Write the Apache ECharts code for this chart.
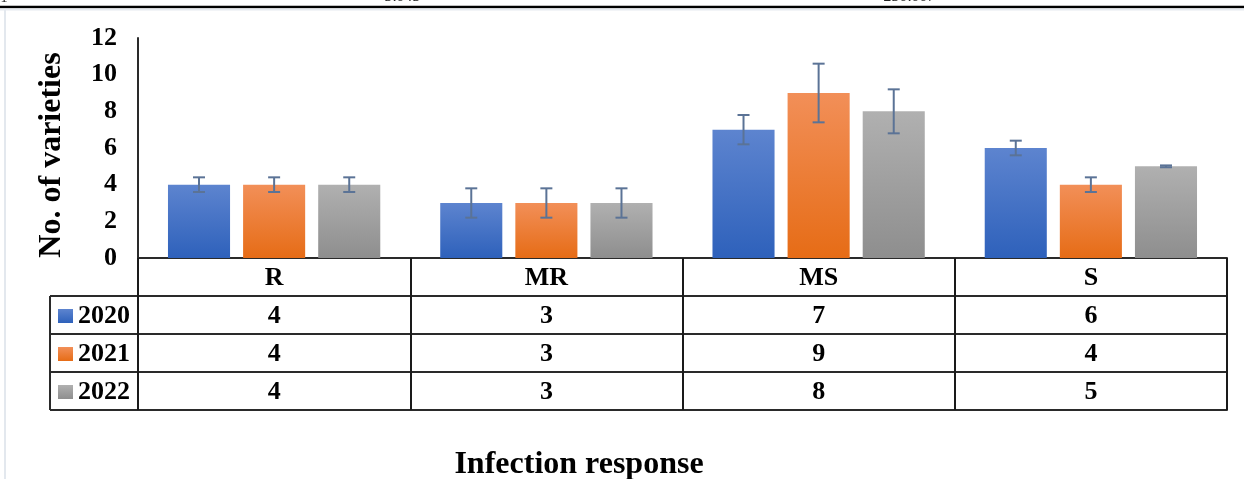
<!DOCTYPE html>
<html>
<head>
<meta charset="utf-8">
<script src="https://cdn.jsdelivr.net/npm/echarts@6/dist/echarts.min.js"></script>
<style>html,body{margin:0;padding:0;background:#fff;}#c{width:1244px;height:479px;}</style>
</head>
<body>
<div id="c"></div>
<script>
const categories = ['R', 'MR', 'MS', 'S'];
const years = ['2020', '2021', '2022'];
const v2020 = [4, 3, 7, 6];
const v2021 = [4, 3, 9, 4];
const v2022 = [4, 3, 8, 5];
const e2020 = [0.4, 0.8, 0.8, 0.4];
const e2021 = [0.4, 0.8, 1.6, 0.4];
const e2022 = [0.4, 0.8, 1.2, 0.05];
const yTicks = [0, 2, 4, 6, 8, 10, 12];

const values = [v2020, v2021, v2022];
const errors = [e2020, e2021, e2022];

const FONT = '"Liberation Serif","Times New Roman",serif';
const gradients = [
  ['#5d84cf', '#2e61bb'],
  ['#f28f58', '#e66c16'],
  ['#b0b0b0', '#8e8e8e']
];
function grad(c) {
  return new echarts.graphic.LinearGradient(0, 0, 0, 1, [
    {offset: 0, color: c[0]}, {offset: 1, color: c[1]}
  ]);
}

const GL = 138, GR = 17, GT = 38, GB = 221;
const ROW = 38;
const axisBase = 479 - GB; // 258
const BAR_W = 0.228, BAR_GAP = 0.21;

const chart = echarts.init(document.getElementById('c'));

function xAx(offset, labels, showLabel, showTick) {
  return {
    type: 'category',
    data: categories,
    position: 'bottom',
    offset: offset,
    boundaryGap: true,
    axisLine: {show: true, lineStyle: {color: '#2a2a2a', width: 2}},
    axisTick: {show: showTick, length: ROW, inside: false, lineStyle: {color: '#1a1a1a', width: 2}},
    axisLabel: {
      show: showLabel,
      margin: ROW / 2 + 1,
      verticalAlign: 'middle',
      lineHeight: 26,
      fontFamily: FONT, fontWeight: 'bold', fontSize: 26, color: '#000',
      formatter: function (v, i) { return labels ? String(labels[i]) : v; }
    },
    splitLine: {show: false}
  };
}

const barSeries = years.map(function (y, k) {
  return {
    name: y,
    type: 'bar',
    xAxisIndex: 0,
    data: values[k],
    barWidth: (BAR_W * 100) + '%',
    barGap: (BAR_GAP * 100) + '%',
    itemStyle: {color: grad(gradients[k])},
    emphasis: {disabled: true}
  };
});

const errSeries = years.map(function (y, k) {
  return {
    type: 'custom',
    xAxisIndex: 0,
    z: 5,
    silent: true,
    data: categories.map(function (c, i) { return [i, values[k][i], errors[k][i]]; }),
    renderItem: function (params, api) {
      const i = api.value(0), v = api.value(1), e = api.value(2);
      const catW = api.size([1, 0])[0];
      const bw = catW * BAR_W;
      const off = (k - 1) * bw * (1 + BAR_GAP);
      const top = api.coord([i, v + e]);
      const bot = api.coord([i, v - e]);
      const x = top[0] + off;
      const cap = 6;
      const st = {stroke: '#5b7396', lineWidth: 2};
      return {
        type: 'group',
        children: [
          {type: 'line', shape: {x1: x, y1: top[1], x2: x, y2: bot[1]}, style: st},
          {type: 'line', shape: {x1: x - cap, y1: top[1], x2: x + cap, y2: top[1]}, style: st},
          {type: 'line', shape: {x1: x - cap, y1: bot[1], x2: x + cap, y2: bot[1]}, style: st}
        ]
      };
    }
  };
});

const LX = 50;
const graphics = [
  {type: 'line', shape: {x1: 0, y1: 7, x2: 1244, y2: 7}, style: {stroke: '#000', lineWidth: 2.5}},
  {type: 'line', shape: {x1: 0, y1: 9.5, x2: 1244, y2: 9.5}, style: {stroke: '#e6eaef', lineWidth: 2}},
  {type: 'line', shape: {x1: 5, y1: 10, x2: 5, y2: 479}, style: {stroke: '#e3e8ee', lineWidth: 2}},
  {type: 'text', x: 4, y: 5, style: {text: '1', font: '14px ' + FONT, fill: '#222', align: 'center', verticalAlign: 'bottom'}},
  {type: 'text', x: 403, y: 5, style: {text: '5.045', font: 'italic 16px ' + FONT, fill: '#222', align: 'center', verticalAlign: 'bottom'}},
  {type: 'text', x: 910, y: 5, style: {text: '250.007', font: 'italic 16px ' + FONT, fill: '#222', align: 'center', verticalAlign: 'bottom'}},
  {type: 'text', x: 52, y: 155, rotation: Math.PI / 2,
    style: {text: 'No. of varieties', font: 'bold 32px ' + FONT, fill: '#000', align: 'center', verticalAlign: 'middle'}},
  {type: 'text', x: 579, y: 465,
    style: {text: 'Infection response', font: 'bold 32px ' + FONT, fill: '#000', align: 'center', verticalAlign: 'middle'}},
  {type: 'line', shape: {x1: LX, y1: axisBase + ROW, x2: LX, y2: axisBase + 4 * ROW}, style: {stroke: '#2a2a2a', lineWidth: 2}}
];
for (let r = 1; r <= 4; r++) {
  graphics.push({type: 'line', shape: {x1: LX, y1: axisBase + r * ROW, x2: GL, y2: axisBase + r * ROW}, style: {stroke: '#2a2a2a', lineWidth: 2}});
}

chart.setOption({
  animation: false,
  grid: {left: GL, right: GR, top: GT, bottom: GB, containLabel: false},
  legend: {
    orient: 'vertical',
    left: 58,
    top: axisBase + ROW + 7,
    itemWidth: 15,
    itemHeight: 14,
    itemGap: 12,
    icon: 'rect',
    selectedMode: false,
    data: years,
    padding: 0,
    textStyle: {fontFamily: FONT, fontWeight: 'bold', fontSize: 26, lineHeight: 26, color: '#000', padding: [0, 0, 0, 0]}
  },
  xAxis: [
    xAx(0, null, true, true),
    xAx(ROW, v2020, true, true),
    xAx(2 * ROW, v2021, true, true),
    xAx(3 * ROW, v2022, true, true),
    xAx(4 * ROW, null, false, false)
  ],
  yAxis: {
    type: 'value',
    min: yTicks[0],
    max: yTicks[yTicks.length - 1],
    interval: yTicks[1] - yTicks[0],
    axisLine: {show: true, lineStyle: {color: '#2a2a2a', width: 2}},
    axisTick: {show: false},
    splitLine: {show: false},
    axisLabel: {margin: 21, fontFamily: FONT, fontWeight: 'bold', fontSize: 26, color: '#000'}
  },
  series: barSeries.concat(errSeries),
  graphic: graphics
});
</script>
</body>
</html>
